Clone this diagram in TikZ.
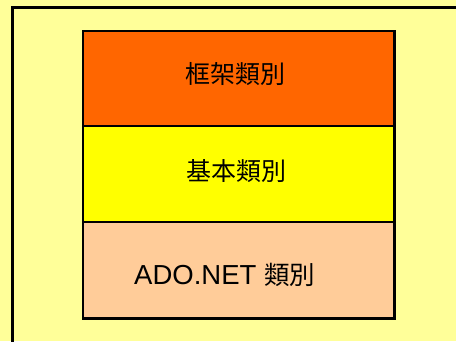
\documentclass[tikz,border=0pt]{standalone}
\usepackage{fontspec}
\setmainfont{Liberation Sans}
\newfontfamily\cjk{Noto Sans CJK TC}
\definecolor{bgyel}{HTML}{FFFF99}
\definecolor{orng}{HTML}{FF6600}
\definecolor{yel}{HTML}{FFFF00}
\definecolor{peach}{HTML}{FFCC99}
\tikzset{layer/.style={draw=black, line width=2.4pt}, lbl/.style={font=\fontsize{25}{28}\selectfont, text=black, inner sep=0pt}}
\begin{document}
\begin{tikzpicture}[x=1pt,y=-1pt]
\useasboundingbox (0,0) rectangle (456,341);
\clip (0,0) rectangle (456,341);
\fill[bgyel] (0,0) rectangle (456,341);
\draw[black, line width=3pt] (12.5,7.5) rectangle (470,360);
\draw[layer, fill=orng] (83,31) rectangle (394.5,126);
\draw[layer, fill=yel] (83,126) rectangle (394.5,222);
\draw[layer, fill=peach] (83,222) rectangle (394.5,318.5);
\node[lbl] (fw) at (235.5,74) {\cjk 框架類別};
\node[lbl] (base) at (236,171.5) {\cjk 基本類別};
\node[lbl, anchor=base west] (ado) at (134,284.3) {\fontsize{27.5}{30}\selectfont ADO.NET {\fontsize{25.5}{28}\selectfont\cjk 類別}};
\end{tikzpicture}
\end{document}
